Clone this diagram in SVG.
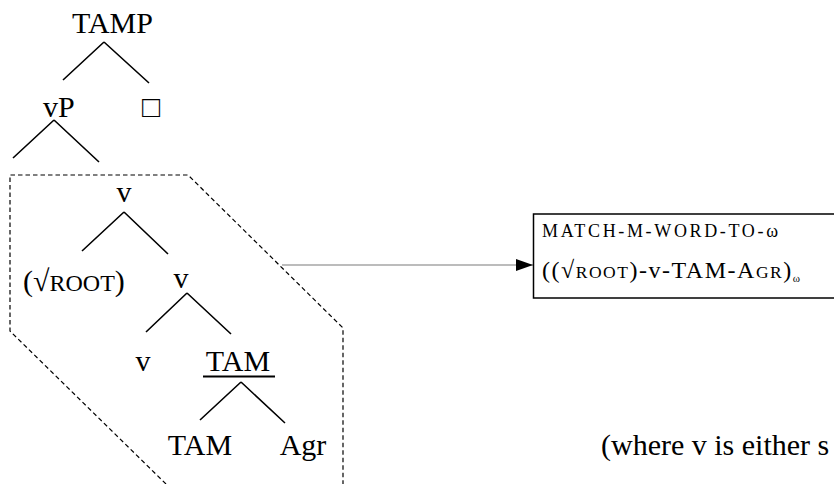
<svg xmlns="http://www.w3.org/2000/svg" width="834" height="484" viewBox="0 0 834 484">
<defs>
<style>
.t{font-family:"Liberation Serif","Times New Roman",serif;font-size:30px;fill:#000}
.sc{font-size:24px}
.b{font-family:"Liberation Serif","Times New Roman",serif;fill:#000}
.e{stroke:#000;stroke-width:1.6;fill:none}
.dash{stroke:#000;stroke-width:1.2;fill:none;stroke-dasharray:4.5 3}
</style>
<marker id="ah" markerWidth="17" markerHeight="12" refX="17" refY="6" orient="auto" markerUnits="userSpaceOnUse">
<path d="M0,0 L17,6 L0,12 Z" fill="#000"/>
</marker>
</defs>
<rect width="834" height="484" fill="#fff"/>
<g id="tree-edges">
<path class="e" d="M104,42 L63,80 M104,42 L149,83"/>
<path class="e" d="M54,120 L13,158 M54,120 L99,162"/>
<path class="e" d="M124,212 L82,251 M124,212 L168,254"/>
<path class="e" d="M187,293 L146,332 M187,293 L231,334"/>
<path class="e" d="M241,382 L200,420 M241,382 L285,423"/>
</g>
<g id="node-TAMP"><text class="t" x="72" y="33">TAMP</text></g>
<g id="node-vP"><text class="t" x="43" y="117">vP</text></g>
<g id="node-box"><text class="t" x="142" y="117">□</text></g>
<g id="node-v1"><text class="t" x="124" y="202" text-anchor="middle">v</text></g>
<g id="node-root"><text class="t" x="23" y="291">(√<tspan class="sc">ROOT</tspan>)</text></g>
<g id="node-v2"><text class="t" x="181" y="288" text-anchor="middle">v</text></g>
<g id="node-v3"><text class="t" x="143" y="371" text-anchor="middle">v</text></g>
<g id="node-TAM1"><text class="t" x="238" y="371" text-anchor="middle">TAM</text><line x1="203" y1="376.5" x2="275" y2="376.5" stroke="#000" stroke-width="2"/></g>
<g id="node-TAM2"><text class="t" x="200" y="455" text-anchor="middle">TAM</text></g>
<g id="node-Agr"><text class="t" x="303" y="455" text-anchor="middle">Agr</text></g>
<g id="domain"><path class="dash" d="M166,484 L10,331 L10,175 L188,175 L343,328 L343,484"/></g>
<g id="connectors">
<line x1="282" y1="265" x2="533" y2="265" stroke="#a6a6a6" stroke-width="1.5" marker-end="url(#ah)"/>
</g>
<g id="node-constraint">
<rect x="533.5" y="214" width="320" height="84" fill="none" stroke="#000" stroke-width="1.5"/>
<text class="b" x="542" y="237" font-size="18" textLength="236" lengthAdjust="spacing">MATCH-M-WORD-TO-ω</text>
<text class="b" x="542" y="278" font-size="24" textLength="258" lengthAdjust="spacing">((√<tspan font-size="17.5">ROOT</tspan>)-v-TAM-A<tspan font-size="17.5">GR</tspan>)<tspan font-size="11" dy="4">ω</tspan></text>
</g>
<g id="note"><text class="t" x="601" y="455">(where v is either s</text></g>
</svg>
